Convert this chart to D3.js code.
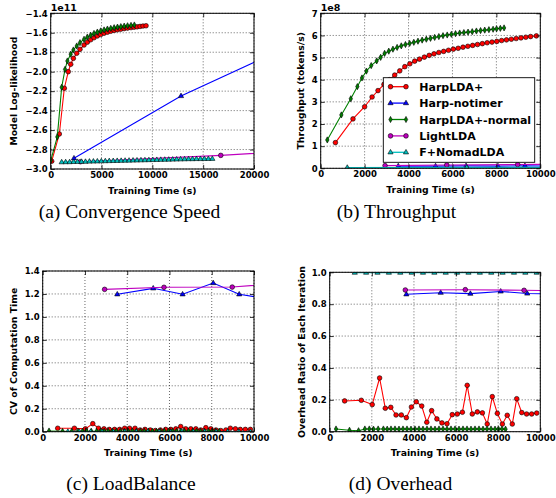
<!DOCTYPE html>
<html>
<head>
<meta charset="utf-8">
<script src="https://cdn.jsdelivr.net/npm/d3@7"></script>
<style>
  body { margin: 0; background: #fff; }
  svg { display: block; }
  .tick text { font-family: "DejaVu Sans", sans-serif; font-weight: bold; font-size: 8.5px; fill: #000; }
  .lbl { font-family: "DejaVu Sans", sans-serif; font-weight: bold; font-size: 9.3px; fill: #000; }
  .cap { font-family: "Liberation Serif", "Times New Roman", serif; font-size: 19.5px; fill: #000; }
</style>
</head>
<body>
<script>
// series names / colours, same in all four panels
var names = ["HarpLDA+", "Harp-notimer", "HarpLDA+-normal", "LightLDA", "F+NomadLDA"];

// (a) convergence, model log-likelihood in 1e11
var aHarpX = [100, 850, 1340, 1730, 1970, 2230, 2560, 2880, 3280, 3600, 3930, 4260, 4590, 4920, 5250, 5580, 5910, 6240, 6570, 6900, 7230, 7560, 7900, 8200, 8500, 8790, 9080, 9380];
var aHarpY = [-2.92, -2.64, -2.17, -2.0, -1.924, -1.863, -1.811, -1.77, -1.726, -1.697, -1.672, -1.651, -1.633, -1.618, -1.605, -1.594, -1.584, -1.576, -1.569, -1.563, -1.557, -1.552, -1.547, -1.543, -1.539, -1.535, -1.531, -1.528];
var aNotimerX = [2290, 12820, 23000];
var aNotimerY = [-2.89, -2.25, -1.76];
var aNormalX = [0, 650, 1080, 1410, 1640, 1970, 2230, 2560, 2880, 3280, 3600, 3930, 4260, 4590, 4920, 5250, 5580, 5910, 6240, 6570, 6900, 7230, 7560, 7900, 8230];
var aNormalY = [-2.915, -2.67, -2.16, -1.976, -1.89, -1.82, -1.777, -1.736, -1.702, -1.667, -1.645, -1.625, -1.607, -1.593, -1.581, -1.571, -1.562, -1.555, -1.548, -1.542, -1.537, -1.532, -1.528, -1.524, -1.52];
var aLightX = [2930, 16730, 23000];
var aLightY = [-2.925, -2.86, -2.82];
var aNomadX = [1080, 1470, 1860, 2250, 2640, 3030, 3420, 3810, 4200, 4590, 4980, 5370, 5760, 6150, 6540, 6930, 7320, 7710, 8100, 8490, 8880, 9270, 9660, 10050, 10440, 10830, 11220, 11610, 12000, 12390, 12780, 13170, 13560, 13950, 14340, 14730, 15120, 15510, 15900];
var aNomadY = [-2.930, -2.929, -2.929, -2.927, -2.926, -2.925, -2.925, -2.923, -2.922, -2.921, -2.920, -2.919, -2.918, -2.917, -2.916, -2.915, -2.914, -2.913, -2.912, -2.911, -2.910, -2.909, -2.908, -2.907, -2.906, -2.905, -2.904, -2.903, -2.902, -2.901, -2.900, -2.899, -2.898, -2.898, -2.897, -2.897, -2.896, -2.896, -2.895];

// (b) throughput, tokens/s in 1e8
var bHarpX = [670, 1470, 2000, 2340, 2610, 2880, 3130, 3370, 3600, 3830, 4060, 4280, 4500, 4720, 4940, 5160, 5380, 5600, 5820, 6040, 6260, 6480, 6700, 6920, 7140, 7360, 7580, 7800, 8020, 8240, 8460, 8680, 8900, 9120, 9340, 9560, 9820];
var bHarpY = [1.16, 2.23, 2.78, 3.22, 3.51, 3.79, 4.0, 4.21, 4.40, 4.59, 4.72, 4.84, 4.93, 5.02, 5.10, 5.17, 5.23, 5.28, 5.33, 5.38, 5.42, 5.47, 5.51, 5.55, 5.59, 5.63, 5.67, 5.70, 5.73, 5.77, 5.80, 5.83, 5.86, 5.89, 5.92, 5.95, 5.98];
var bNotimerX = [3530, 5230, 6620, 8070, 9300, 10600];
var bNotimerY = [0.10, 0.10, 0.11, 0.10, 0.11, 0.10];
var bNormalX = [300, 940, 1370, 1670, 1880, 2080, 2300, 2550, 2730, 2910, 3100, 3290, 3480, 3670, 3860, 4050, 4240, 4430, 4620, 4810, 5000, 5190, 5380, 5570, 5760, 5950, 6140, 6330, 6520, 6710, 6900, 7090, 7280, 7470, 7660, 7850, 8010, 8180, 8350];
var bNormalY = [1.28, 2.41, 3.14, 3.69, 4.08, 4.39, 4.64, 4.85, 5.01, 5.19, 5.29, 5.38, 5.46, 5.53, 5.59, 5.64, 5.69, 5.74, 5.79, 5.83, 5.87, 5.91, 5.95, 5.99, 6.02, 6.05, 6.08, 6.11, 6.13, 6.15, 6.17, 6.20, 6.22, 6.24, 6.26, 6.28, 6.30, 6.32, 6.34];
var bLightX = [2930, 5740, 8970, 11800];
var bLightY = [0.12, 0.15, 0.17, 0.19];
var bNomadX = [1210, 6650, 12000];
var bNomadY = [0.03, 0.04, 0.04];

// (c) load balance, CV of computation time
var cHarpX = [710, 1500, 2020, 2370, 2640, 2900, 3150, 3400, 3640, 3880, 4110, 4370, 4610, 4840, 5090, 5330, 5570, 5820, 6060, 6300, 6530, 6770, 7010, 7250, 7480, 7720, 7960, 8200, 8430, 8670, 8880, 9120, 9350, 9590, 9830];
var cHarpY = [0.03, 0.03, 0.025, 0.07, 0.03, 0.025, 0.02, 0.02, 0.02, 0.03, 0.03, 0.03, 0.015, 0.02, 0.015, 0.01, 0.015, 0.02, 0.02, 0.025, 0.045, 0.025, 0.025, 0.025, 0.015, 0.035, 0.025, 0.015, 0.01, 0.015, 0.03, 0.025, 0.02, 0.02, 0.02];
var cNotimerX = [3530, 5230, 6620, 8070, 9300, 10600];
var cNotimerY = [1.197, 1.249, 1.197, 1.295, 1.197, 1.16];
var cNormalX = [300, 940, 1370, 1670, 1880, 2080, 2300, 2550, 2730, 2910, 3100, 3290, 3480, 3670, 3860, 4050, 4240, 4430, 4620, 4810, 5000, 5190, 5380, 5570, 5760, 5950, 6140, 6330, 6520, 6710, 6900, 7090, 7280, 7470, 7660, 7850, 8010, 8180, 8350];
var cNormalY = [0.006, 0.003, 0.002, 0.004, 0.003, 0.003, 0.004, 0.003, 0.003, 0.004, 0.003, 0.003, 0.004, 0.003, 0.003, 0.003, 0.004, 0.003, 0.003, 0.003, 0.004, 0.003, 0.003, 0.003, 0.004, 0.003, 0.003, 0.003, 0.004, 0.003, 0.003, 0.003, 0.004, 0.003, 0.003, 0.003, 0.004, 0.003, 0.003];
var cLightX = [2930, 5740, 8970, 11800];
var cLightY = [1.24, 1.258, 1.26, 1.30];
var cNomadX = [1190, 1730, 2270, 2810, 3350, 3890, 4430, 4970, 5510, 6050, 6590, 7130, 7670, 8210, 8750, 9290, 9830];
var cNomadY = [0, 0, 0, 0, 0, 0, 0, 0, 0, 0, 0, 0, 0, 0, 0, 0, 0];

// (d) overhead ratio of each iteration
var dHarpX = [710, 1500, 2020, 2370, 2640, 2900, 3150, 3400, 3640, 3880, 4110, 4370, 4610, 4840, 5090, 5330, 5570, 5820, 6060, 6300, 6530, 6770, 7010, 7250, 7480, 7720, 7960, 8200, 8430, 8670, 8880, 9120, 9350, 9590, 9830];
var dHarpY = [0.193, 0.197, 0.17, 0.337, 0.147, 0.153, 0.105, 0.105, 0.088, 0.155, 0.188, 0.161, 0.059, 0.132, 0.08, 0.055, 0.05, 0.107, 0.111, 0.122, 0.291, 0.111, 0.124, 0.118, 0.048, 0.22, 0.115, 0.048, 0.103, 0.048, 0.207, 0.12, 0.111, 0.111, 0.117];
var dNotimerX = [3640, 5270, 6680, 8120, 9380, 10700];
var dNotimerY = [0.862, 0.872, 0.866, 0.88, 0.867, 0.864];
var dNormalX = [300, 940, 1370, 1670, 1880, 2080, 2300, 2550, 2730, 2910, 3100, 3290, 3480, 3670, 3860, 4050, 4240, 4430, 4620, 4810, 5000, 5190, 5380, 5570, 5760, 5950, 6140, 6330, 6520, 6710, 6900, 7090, 7280, 7470, 7660, 7850, 8010, 8180, 8350];
var dNormalY = [0.017, 0.009, 0.006, 0.017, 0.017, 0.016, 0.017, 0.017, 0.016, 0.017, 0.017, 0.016, 0.017, 0.017, 0.016, 0.017, 0.017, 0.016, 0.017, 0.017, 0.016, 0.017, 0.017, 0.016, 0.017, 0.017, 0.016, 0.017, 0.017, 0.016, 0.017, 0.017, 0.016, 0.017, 0.017, 0.016, 0.017, 0.017, 0.016];
var dLightX = [3590, 6440, 9230, 12000];
var dLightY = [0.889, 0.891, 0.887, 0.884];
var dNomadX = [1190, 1730, 2270, 2810, 3350, 3890, 4430, 4970, 5510, 6050, 6590, 7130, 7670, 8210, 8750, 9290, 9830];
var dNomadY = [0.998, 0.998, 0.998, 0.998, 0.998, 0.998, 0.998, 0.998, 0.998, 0.998, 0.998, 0.998, 0.998, 0.998, 0.998, 0.998, 0.998];

var colors = ["#ff0000", "#0000ff", "#008000", "#bf00bf", "#00bfbf"];
var shapes = ["circle", "triangle", "diamond", "circle", "triangle"];

var svg = d3.select("body").append("svg")
  .attr("width", 556).attr("height", 498);

function markerPath(shape) {
  if (shape == "circle") return d3.symbol().type(d3.symbolCircle).size(17)();
  if (shape == "triangle") return "M0,-2.9L2.6,1.6L-2.6,1.6Z";
  return "M0,-3.1L1.7,0L0,3.1L-1.7,0Z";
}

function zip(xs, ys) {
  return xs.map(function(v, i) { return [v, ys[i]]; });
}

var clipId = 0;
function panel(cfg) {
  var g = svg.append("g");
  var x = d3.scaleLinear().domain(cfg.xDomain).range([cfg.left, cfg.right]);
  var y = d3.scaleLinear().domain(cfg.yDomain).range([cfg.bottom, cfg.top]);
  var w = cfg.right - cfg.left, h = cfg.bottom - cfg.top;

  clipId++;
  g.append("clipPath").attr("id", "clip" + clipId)
    .append("rect").attr("x", cfg.left).attr("y", cfg.top).attr("width", w).attr("height", h);

  // dotted grid
  g.selectAll(".gx").data(cfg.xTicks).enter().append("line")
    .attr("x1", d => x(d)).attr("x2", d => x(d)).attr("y1", cfg.top).attr("y2", cfg.bottom)
    .attr("stroke", "#000").attr("stroke-width", 0.6).attr("stroke-dasharray", "1,2");
  g.selectAll(".gy").data(cfg.yTicks).enter().append("line")
    .attr("x1", cfg.left).attr("x2", cfg.right).attr("y1", d => y(d)).attr("y2", d => y(d))
    .attr("stroke", "#000").attr("stroke-width", 0.6).attr("stroke-dasharray", "1,2");

  var plot = g.append("g").attr("clip-path", "url(#clip" + clipId + ")");
  var line = d3.line().x(d => x(d[0])).y(d => y(d[1]));
  cfg.series.forEach(function(s, i) {
    var pts = zip(s[0], s[1]);
    plot.append("path").datum(pts).attr("d", line)
      .attr("fill", "none").attr("stroke", colors[i]).attr("stroke-width", 1.1);
    plot.selectAll(null).data(pts).enter().append("path")
      .attr("d", markerPath(shapes[i]))
      .attr("transform", d => "translate(" + x(d[0]) + "," + y(d[1]) + ")")
      .attr("fill", colors[i]).attr("stroke", "#000").attr("stroke-width", 0.6);
  });

  // axes, ticks pointing inward on all sides
  g.append("g").attr("transform", "translate(0," + cfg.bottom + ")")
    .call(d3.axisBottom(x).tickValues(cfg.xTicks).tickFormat(d3.format("d")).tickSizeInner(-4).tickSizeOuter(0).tickPadding(3))
    .call(a => a.select(".domain").remove());
  g.append("g").attr("transform", "translate(" + cfg.left + ",0)")
    .call(d3.axisLeft(y).tickValues(cfg.yTicks).tickFormat(cfg.yFormat).tickSizeInner(-4).tickSizeOuter(0).tickPadding(3))
    .call(a => a.select(".domain").remove());
  g.append("g").attr("transform", "translate(0," + cfg.top + ")")
    .call(d3.axisTop(x).tickValues(cfg.xTicks).tickFormat("").tickSizeInner(-4).tickSizeOuter(0))
    .call(a => a.select(".domain").remove());
  g.append("g").attr("transform", "translate(" + cfg.right + ",0)")
    .call(d3.axisRight(y).tickValues(cfg.yTicks).tickFormat("").tickSizeInner(-4).tickSizeOuter(0))
    .call(a => a.select(".domain").remove());
  g.selectAll(".tick line").attr("stroke-width", 0.8);

  g.append("rect").attr("x", cfg.left).attr("y", cfg.top).attr("width", w).attr("height", h)
    .attr("fill", "none").attr("stroke", "#000").attr("stroke-width", 1);

  g.append("text").attr("class", "lbl").attr("text-anchor", "middle")
    .attr("x", (cfg.left + cfg.right) / 2).attr("y", cfg.bottom + 24.5)
    .text("Training Time (s)");
  g.append("text").attr("class", "lbl").attr("text-anchor", "middle")
    .attr("transform", "translate(" + cfg.yLabelX + "," + (cfg.top + cfg.bottom) / 2 + ") rotate(-90)")
    .text(cfg.yLabel);
  if (cfg.offset) {
    g.append("text").attr("class", "lbl").attr("x", cfg.left).attr("y", cfg.top - 2.8)
      .style("font-size", "9.5px").text(cfg.offset);
  }
  svg.append("text").attr("class", "cap").attr("text-anchor", "middle")
    .attr("x", cfg.capX).attr("y", cfg.capY).text(cfg.caption);
  return { x: x, y: y };
}

var minus = d => (d < 0 ? "\u2212" : "") + Math.abs(d).toFixed(1);

panel({
  left: 50.7, right: 254, top: 13.3, bottom: 169,
  xDomain: [0, 20000], yDomain: [-3.0, -1.4],
  xTicks: [0, 5000, 10000, 15000, 20000],
  yTicks: [-3.0, -2.8, -2.6, -2.4, -2.2, -2.0, -1.8, -1.6, -1.4],
  yFormat: minus, yLabel: "Model Log-likelihood", yLabelX: 16.5, offset: "1e11",
  caption: "(a) Convergence Speed", capX: 129.5, capY: 217.5,
  series: [[aHarpX, aHarpY], [aNotimerX, aNotimerY], [aNormalX, aNormalY], [aLightX, aLightY], [aNomadX, aNomadY]]
});

panel({
  left: 320.7, right: 540.3, top: 13.3, bottom: 168.3,
  xDomain: [0, 10000], yDomain: [0, 7],
  xTicks: [0, 2000, 4000, 6000, 8000, 10000],
  yTicks: [0, 1, 2, 3, 4, 5, 6, 7],
  yFormat: d3.format("d"), yLabel: "Throughput (tokens/s)", yLabelX: 304, offset: "1e8",
  caption: "(b) Throughput", capX: 396.5, capY: 217.5,
  series: [[bHarpX, bHarpY], [bNotimerX, bNotimerY], [bNormalX, bNormalY], [bLightX, bLightY], [bNomadX, bNomadY]]
});

panel({
  left: 42.7, right: 254, top: 271, bottom: 431.7,
  xDomain: [0, 10000], yDomain: [0, 1.4],
  xTicks: [0, 2000, 4000, 6000, 8000, 10000],
  yTicks: [0, 0.2, 0.4, 0.6, 0.8, 1.0, 1.2, 1.4],
  yFormat: d3.format(".1f"), yLabel: "CV of Computation Time", yLabelX: 16.5,
  caption: "(c) LoadBalance", capX: 131, capY: 489.5,
  series: [[cHarpX, cHarpY], [cNotimerX, cNotimerY], [cNormalX, cNormalY], [cLightX, cLightY], [cNomadX, cNomadY]]
});

panel({
  left: 329.7, right: 540.3, top: 272.3, bottom: 431.7,
  xDomain: [0, 10000], yDomain: [0, 1.0],
  xTicks: [0, 2000, 4000, 6000, 8000, 10000],
  yTicks: [0, 0.2, 0.4, 0.6, 0.8, 1.0],
  yFormat: d3.format(".1f"), yLabel: "Overhead Ratio of Each Iteration", yLabelX: 304.5,
  caption: "(d) Overhead", capX: 400.5, capY: 489.5,
  series: [[dHarpX, dHarpY], [dNotimerX, dNotimerY], [dNormalX, dNormalY], [dLightX, dLightY], [dNomadX, dNomadY]]
});

// legend inside panel (b)
var leg = svg.append("g");
leg.append("rect").attr("x", 383.3).attr("y", 77.7).attr("width", 151.4).attr("height", 84.6)
  .attr("fill", "#fff").attr("stroke", "#000").attr("stroke-width", 0.9);
names.forEach(function(n, i) {
  var yy = 86.7 + i * 16.4;
  leg.append("line").attr("x1", 390.5).attr("x2", 406).attr("y1", yy).attr("y2", yy)
    .attr("stroke", colors[i]).attr("stroke-width", 1.3);
  [390.5, 406].forEach(function(xx) {
    leg.append("path").attr("d", markerPath(shapes[i]))
      .attr("transform", "translate(" + xx + "," + yy + ")")
      .attr("fill", colors[i]).attr("stroke", "#000").attr("stroke-width", 0.6);
  });
  leg.append("text").attr("class", "lbl").style("font-size", "11px")
    .attr("x", 419.3).attr("y", yy + 4).text(n);
});
</script>
</body>
</html>
